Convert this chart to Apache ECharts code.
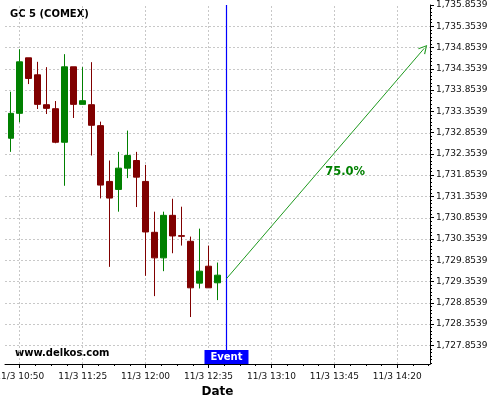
<!DOCTYPE html>
<html><head><meta charset="utf-8">
<script src="https://cdn.jsdelivr.net/npm/echarts@6/dist/echarts.min.js"></script>
<style>html,body{margin:0;padding:0;background:#fff}#c{width:500px;height:400px}</style>
</head><body><div id="c"></div>
<script>
const title = 'GC 5 (COMEX)';
const watermark = 'www.delkos.com';
const xName = 'Date';
const times  = ['10:45','10:50','10:55','11:00','11:05','11:10','11:15','11:20','11:25','11:30','11:35','11:40',
                '11:45','11:50','11:55','12:00','12:05','12:10','12:15','12:20','12:25','12:30','12:35','12:40'];
const opens  = [1732.721,1733.307,1734.612,1734.213,1733.510,1733.416,1732.627,1734.401,1733.518,1733.510,1733.018,1731.706,
                1731.518,1732.018,1732.198,1731.706,1730.510,1729.909,1730.909,1730.432,1730.299,1729.315,1729.713,1729.323];
const closes = [1733.307,1734.518,1734.127,1733.518,1733.424,1732.627,1734.401,1733.518,1733.604,1733.026,1731.620,1731.315,
                1732.018,1732.315,1731.807,1730.518,1729.909,1730.909,1730.424,1730.416,1729.205,1729.596,1729.205,1729.502];
const lows   = [1732.401,1733.096,1733.995,1733.409,1733.291,1732.604,1731.604,1733.198,1733.518,1732.315,1731.307,1729.698,
                1730.995,1731.784,1731.104,1729.487,1729.010,1729.596,1730.018,1730.198,1728.518,1729.190,1729.205,1728.916];
const highs  = [1733.815,1734.815,1734.612,1734.518,1734.393,1733.596,1734.698,1734.401,1734.393,1734.510,1733.112,1732.198,
                1732.401,1732.901,1732.401,1732.096,1730.995,1730.995,1731.299,1731.112,1730.409,1730.596,1730.198,1729.799];
const xTickTimes = ['10:50','11:25','12:00','12:35','13:10','13:45','14:20'];
const xTickPrefix = '11/3 ';
const yTickLabels = ['1,727.8539','1,728.3539','1,728.8539','1,729.3539','1,729.8539','1,730.3539','1,730.8539','1,731.3539',
                     '1,731.8539','1,732.3539','1,732.8539','1,733.3539','1,733.8539','1,734.3539','1,734.8539','1,735.3539','1,735.8539'];
const eventTime = '12:45';
const eventLabel = 'Event';
const forecastStart = ['12:45', 1729.42];
const forecastEnd = ['14:35', 1734.836];
const forecastLabel = '75.0%';
const forecastLabelAt = ['13:51', 1731.93];

const FONT = '"DejaVu Sans", Verdana, sans-serif';
const toMin = t => { const p = t.split(':').map(Number); return p[0]*60 + p[1]; };
const fmtTime = v => { const h = Math.floor(v/60), m = Math.round(v - h*60); return h + ':' + (m<10?'0':'') + m; };
const xMin = 641.8, xMax = 878.2;
const yMin = 1727.414, yMax = 1735.8539;

const xMajors = xTickTimes.map(toMin);
const xMinors = [];
for (let i = -4; i < 40; i++) {
  const v = xMajors[0] + i * 8.75;
  if (v >= xMin && v <= xMax && i % 4 !== 0) xMinors.push(v);
}
const yVals = yTickLabels.map(s => parseFloat(s.replace(/,/g, '')));
const yMinors = [];
for (let i = -6; i < 120; i++) {
  const v = yVals[0] + i * 0.5 / 6;
  if (v >= yMin && v <= yMax + 1e-6 && ((i % 6) + 6) % 6 !== 0) yMinors.push(v);
}
const fmtY = v => {
  const idx = yVals.findIndex(y => Math.abs(y - v) < 1e-6);
  return idx >= 0 ? yTickLabels[idx] : '';
};

const chart = echarts.init(document.getElementById('c'), null, {renderer: 'canvas'});
const gridStyle = {color: '#c8c8c8', width: 1, type: [2, 2]};
chart.setOption({
  animation: false,
  backgroundColor: '#fff',
  grid: {left: 5, right: 70, top: 5, bottom: 36, containLabel: false, outerBoundsMode: 'none'},
  xAxis: [{
    type: 'value', min: xMin, max: xMax, position: 'bottom',
    axisLine: {onZero: false, lineStyle: {color: '#000', width: 1}},
    axisTick: {show: true, customValues: xMajors, length: 4, lineStyle: {color: '#000'}},
    axisLabel: {customValues: xMajors, formatter: v => xTickPrefix + fmtTime(v), fontSize: 9, color: '#111', margin: 8, fontFamily: FONT},
    splitLine: {show: false},
    name: xName, nameLocation: 'middle', nameGap: 22,
    nameTextStyle: {fontWeight: 'bold', fontSize: 12, color: '#000', fontFamily: FONT}
  }, {
    type: 'value', min: xMin, max: xMax, position: 'bottom',
    axisLine: {show: false, onZero: false},
    axisTick: {show: true, customValues: xMinors, length: 2, lineStyle: {color: '#000'}},
    axisLabel: {show: false}, splitLine: {show: false}
  }],
  yAxis: [{
    type: 'value', min: yMin, max: yMax, position: 'right',
    axisLine: {show: true, onZero: false, lineStyle: {color: '#000', width: 1}},
    axisTick: {show: true, customValues: yVals, length: 4, lineStyle: {color: '#000'}},
    axisLabel: {customValues: yVals, formatter: fmtY, fontSize: 9, color: '#111', margin: 6, fontFamily: FONT},
    splitLine: {show: false}
  }, {
    type: 'value', min: yMin, max: yMax, position: 'right',
    axisLine: {show: false, onZero: false},
    axisTick: {show: true, customValues: yMinors, length: 2, lineStyle: {color: '#000'}},
    axisLabel: {show: false}, splitLine: {show: false}
  }],
  graphic: [
    {type: 'text', left: 10, top: 9, style: {text: title, font: 'bold 10px ' + FONT, fill: '#000'}},
    {type: 'text', left: 15, top: 348, style: {text: watermark, font: 'bold 10px ' + FONT, fill: '#000'}}
  ],
  series: [{
    type: 'line', xAxisIndex: 0, yAxisIndex: 0, data: [], silent: true, z: 0,
    markLine: {
      z: 0, silent: true, animation: false, symbol: ['none', 'none'], label: {show: false},
      lineStyle: gridStyle,
      data: xMajors.map(v => ({xAxis: v})).concat(yVals.filter(v => v < yMax - 1e-6).map(v => ({yAxis: v})))
    }
  }, {
    type: 'candlestick', xAxisIndex: 0, yAxisIndex: 0, z: 3,
    data: times.map((t, i) => [toMin(t), opens[i], closes[i], lows[i], highs[i]]),
    encode: {x: 0, y: [1, 2, 3, 4]},
    barWidth: 6,
    itemStyle: {color: '#008000', color0: '#800000', borderColor: '#008000', borderColor0: '#800000', borderWidth: 1},
    markLine: {
      z: 5, silent: true, animation: false, symbol: ['none', 'none'], label: {show: false},
      lineStyle: {color: '#0000ff', width: 1.2, type: 'solid'},
      data: [{xAxis: toMin(eventTime)}]
    },
    markPoint: {
      z: 6, silent: true, animation: false,
      data: [{
        coord: [toMin(eventTime), yMin], symbol: 'rect', symbolSize: [44, 14], symbolOffset: [0, -7],
        itemStyle: {color: '#0000ff'},
        label: {show: true, position: 'inside', formatter: eventLabel, color: '#fff', fontWeight: 'bold', fontSize: 10, fontFamily: FONT}
      }, {
        coord: [toMin(forecastLabelAt[0]), forecastLabelAt[1]], symbol: 'circle', symbolSize: 1,
        itemStyle: {color: 'rgba(0,0,0,0)'},
        label: {show: true, position: 'inside', formatter: forecastLabel, color: '#008000', fontWeight: 'bold', fontSize: 11.5, fontFamily: FONT}
      }]
    }
  }, {
    type: 'line', xAxisIndex: 0, yAxisIndex: 0, data: [], silent: true,
    markLine: {
      z: 5, silent: true, animation: false, label: {show: false},
      symbol: ['none', 'path://M5,0 L10,10 L9,10.8 L5,2.6 L1,10.8 L0,10 Z'], symbolSize: [9, 9],
      lineStyle: {color: '#1f9a1f', width: 1, type: 'solid'},
      data: [[{coord: [toMin(forecastStart[0]), forecastStart[1]]}, {coord: [toMin(forecastEnd[0]), forecastEnd[1]]}]]
    }
  }]
});
</script>
</body></html>
